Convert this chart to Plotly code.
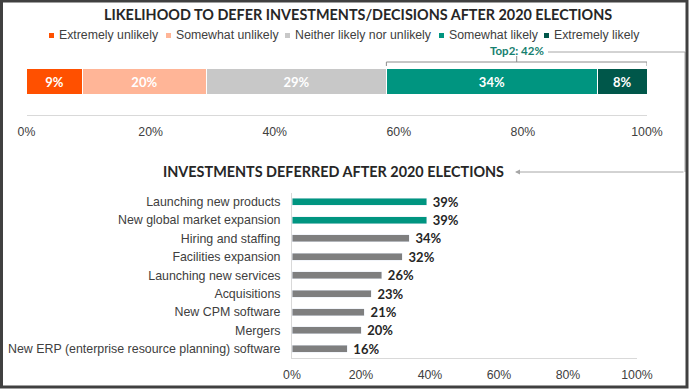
import plotly.graph_objects as go

# ---------------- data ----------------
likelihood_labels = ["Extremely unlikely", "Somewhat unlikely", "Neither likely nor unlikely",
                     "Somewhat likely", "Extremely likely"]
likelihood_values = [9, 20, 29, 34, 8]

invest_categories = ["Launching new products", "New global market expansion", "Hiring and staffing",
                     "Facilities expansion", "Launching new services", "Acquisitions",
                     "New CPM software", "Mergers",
                     "New ERP (enterprise resource planning) software"]
invest_values = [39, 39, 34, 32, 26, 23, 21, 20, 16]

tick_values = [0, 20, 40, 60, 80, 100]
tick_labels = ["0%", "20%", "40%", "60%", "80%", "100%"]

title_top = "LIKELIHOOD TO DEFER INVESTMENTS/DECISIONS AFTER 2020 ELECTIONS"
title_bottom = "INVESTMENTS DEFERRED AFTER 2020 ELECTIONS"

# ---------------- style ----------------
W, H = 689, 389
seg_colors = ["#FF5000", "#FFB597", "#C8C8C8", "#009580", "#00574A"]
teal, gray = "#009580", "#7F7F7F"
n_highlight = 2
txt = "#404040"
dark = "#262626"
AR = "Liberation Sans, Arial, sans-serif"
LATO = "Lato, sans-serif"


def px(x):
    return x / W


def py(y):
    return 1 - y / H


fig = go.Figure()

# top stacked bar
for lab, val, col in zip(likelihood_labels, likelihood_values, seg_colors):
    fig.add_trace(go.Bar(
        x=[val], y=[0], name=lab, orientation="h",
        marker=dict(color=col, line=dict(color="white", width=1)),
        text=[f"{val}%"], textposition="inside", insidetextanchor="middle",
        textangle=0, constraintext="none",
        textfont=dict(family=LATO, size=13, color="white", weight=700),
        xaxis="x", yaxis="y", showlegend=False, hoverinfo="skip",
    ))

# bottom bar chart
bar_colors = [teal if i < n_highlight else gray for i in range(len(invest_values))]
fig.add_trace(go.Bar(
    x=invest_values, y=invest_categories, orientation="h",
    marker=dict(color=bar_colors),
    text=[f" {v}%" for v in invest_values], textposition="outside",
    constraintext="none",
    textfont=dict(family=LATO, size=13, color=dark, weight=700),
    cliponaxis=False, xaxis="x2", yaxis="y2", showlegend=False, hoverinfo="skip",
))

annotations = []
shapes = []

# titles
annotations.append(dict(text=title_top, x=px(358), y=py(14), xref="paper", yref="paper",
                        showarrow=False, xanchor="center", yanchor="middle",
                        font=dict(family=LATO, size=14.4, color=dark, weight=700)))
annotations.append(dict(text=title_bottom, x=px(333.5), y=py(171), xref="paper", yref="paper",
                        showarrow=False, xanchor="center", yanchor="middle",
                        font=dict(family=LATO, size=14.4, color=dark, weight=700)))

# legend (text + square keys)
legend_text_x = [57, 174, 293, 447, 552]
for lab, col, tx in zip(likelihood_labels, seg_colors, legend_text_x):
    annotations.append(dict(text=lab, x=px(tx), y=py(35.5), xref="paper", yref="paper",
                            showarrow=False, xanchor="left", yanchor="middle",
                            font=dict(family=AR, size=12.3, color=txt)))
    shapes.append(dict(type="rect", xref="paper", yref="paper",
                       x0=px(tx - 8), x1=px(tx - 3), y0=py(38), y1=py(33),
                       fillcolor=col, line=dict(width=0)))

# Top2 bracket
top2_start = sum(likelihood_values[:3])
top2_end = sum(likelihood_values)
top2_val = sum(likelihood_values[3:])
top2_mid = (top2_start + top2_end) / 2
bc = "#8C8C8C"
shapes += [
    dict(type="line", xref="x", yref="paper", x0=top2_start, x1=top2_end, y0=py(62), y1=py(62),
         line=dict(color=bc, width=1)),
    dict(type="line", xref="x", yref="paper", x0=top2_start, x1=top2_start, y0=py(62), y1=py(66),
         line=dict(color=bc, width=1)),
    dict(type="line", xref="x", yref="paper", x0=top2_end, x1=top2_end, y0=py(62), y1=py(66),
         line=dict(color=bc, width=1)),
    dict(type="line", xref="x", yref="paper", x0=top2_mid, x1=top2_mid, y0=py(56), y1=py(62),
         line=dict(color=bc, width=1)),
]
annotations.append(dict(text=f"Top2: {top2_val}%", x=top2_mid, y=py(50.5), xref="x", yref="paper",
                        showarrow=False, xanchor="center", yanchor="middle",
                        font=dict(family=LATO, size=11.5, color="#16806F", weight=700)))

# connector to second chart
cc = "#A6A6A6"
shapes += [
    dict(type="line", xref="paper", yref="paper", x0=px(548), x1=px(685), y0=py(52), y1=py(52),
         line=dict(color=cc, width=1)),
    dict(type="line", xref="paper", yref="paper", x0=px(685), x1=px(685), y0=py(52), y1=py(172),
         line=dict(color=cc, width=1)),
]
annotations.append(dict(text="", x=px(515), y=py(172), xref="paper", yref="paper",
                        showarrow=True, ax=170, ay=0, axref="pixel", ayref="pixel",
                        arrowhead=2, arrowsize=1, arrowwidth=1, arrowcolor=cc))

# frame
shapes.append(dict(type="rect", xref="paper", yref="paper",
                   x0=px(1.5), x1=px(W - 2), y0=py(H - 2), y1=py(1),
                   line=dict(color="#404040", width=3), fillcolor="rgba(0,0,0,0)"))

fig.update_layout(
    width=W, height=H, autosize=False,
    margin=dict(l=0, r=0, t=0, b=0, pad=0, autoexpand=False),
    paper_bgcolor="white", plot_bgcolor="white",
    barmode="stack", bargap=0.62,
    showlegend=False,
    annotations=annotations, shapes=shapes,
    xaxis=dict(domain=[px(26.5), px(647)], range=[0, 100], anchor="y",
               tickvals=tick_values, ticktext=tick_labels,
               showgrid=False, zeroline=False, showline=True, linecolor="#D9D9D9", linewidth=1,
               ticks="", ticklabelstandoff=5, automargin=False,
               tickfont=dict(family=AR, size=12.3, color=txt)),
    yaxis=dict(domain=[py(115), py(48)], range=[-0.5, 0.5], anchor="x",
               visible=False, fixedrange=True, automargin=False),
    xaxis2=dict(domain=[px(292), px(637)], range=[0, 100], anchor="y2",
                tickvals=tick_values, ticktext=tick_labels,
                showgrid=False, zeroline=False, showline=True, linecolor="#D9D9D9", linewidth=1,
                ticks="", ticklabelstandoff=5, automargin=False,
                tickfont=dict(family=AR, size=12.3, color=txt)),
    yaxis2=dict(domain=[py(358), py(192.5)], range=[len(invest_categories) - 0.5, -0.5],
                anchor="x2", showgrid=False, zeroline=False,
                showline=True, linecolor="#D9D9D9", linewidth=1,
                ticks="", ticklabelstandoff=8, automargin=False,
                tickfont=dict(family=AR, size=12.4, color=txt)),
)

fig.write_html(
    "out.html",
    config={"responsive": False, "displayModeBar": False},
    post_script="document.body.style.margin='0';document.body.style.overflow='hidden';",
)
